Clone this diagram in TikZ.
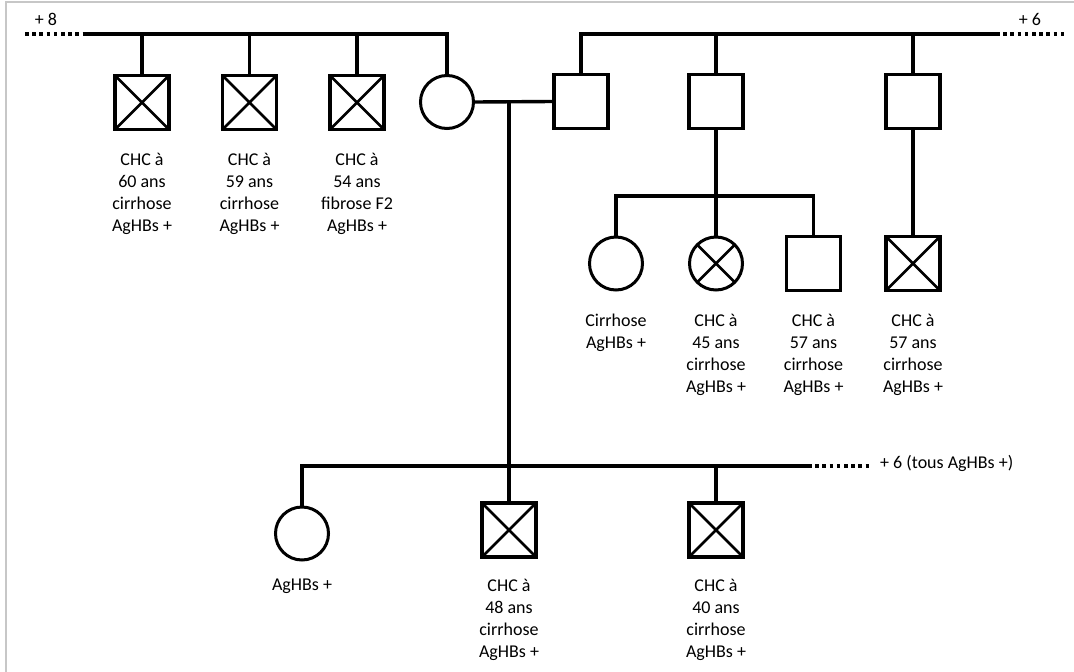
\documentclass[tikz,border=0pt]{standalone}
\usepackage{fontspec}
\setmainfont{Carlito}
\begin{document}
\begin{tikzpicture}[x=1pt,y=-1pt,
  lw/.style={line width=3.4pt},
  dotline/.style={line width=3.6pt, dash pattern=on 3.6pt off 3.6pt},
  sq/.style={draw, rectangle, line width=3.4pt, minimum size=54pt, inner sep=0pt},
  ci/.style={draw, circle, line width=3pt, minimum size=53pt, inner sep=0pt},
  xsq/.style={sq, path picture={\draw[line width=2.6pt]
     (path picture bounding box.north west) -- (path picture bounding box.south east)
     (path picture bounding box.north east) -- (path picture bounding box.south west);}},
  xci/.style={ci, path picture={\draw[line width=2.6pt]
     (path picture bounding box.north west) -- (path picture bounding box.south east)
     (path picture bounding box.north east) -- (path picture bounding box.south west);}},
  lab/.style={anchor=north, align=center, inner sep=0pt, font=\fontsize{18}{22}\selectfont},
  txt/.style={inner sep=0pt, font=\fontsize{18}{22}\selectfont}
]
\useasboundingbox (0,0) rectangle (1074,672);
\fill[white] (0,0) rectangle (1074,672);
\draw[black!22, line width=1.5pt] (6,672) -- (6,2) -- (1074,2);

% generation 1 - left sibship
\node[xsq] (a1) at (142,102.5) {};
\node[xsq] (a2) at (249.5,102.5) {};
\node[xsq] (a3) at (357,102.5) {};
\node[ci]  (w)  at (447,102) {};
% generation 1 - right sibship
\node[sq] (h) at (581,101.5) {};
\node[sq] (b) at (716,101.5) {};
\node[sq] (c) at (913,101.5) {};

\coordinate (tl0) at (25,34);
\coordinate (tl1) at (84,34);
\coordinate (tr1) at (996,34);
\coordinate (tr2) at (1064,34);

\draw[dotline] (tl0) -- (tl1);
\draw[lw] (tl1) -| (w.north);
\foreach \n in {a1,a2,a3} \draw[lw] (\n.north) -- (\n.north |- tl1);
\draw[lw] (h.north) |- (tr1);
\foreach \n in {b,c} \draw[lw] (\n.north) -- (\n.north |- tr1);
\draw[dotline] (tr1) -- (tr2);

\node[txt] (p8) at (46,19) {+ 8};
\node[txt] (p6) at (1030,19) {+ 6};

\node[lab] (la1) at (142,153) {CHC à\\60 ans\\cirrhose\\AgHBs +};
\node[lab] (la2) at (249.5,153) {CHC à\\59 ans\\cirrhose\\AgHBs +};
\node[lab] (la3) at (357,153) {CHC à\\54 ans\\fibrose F2\\AgHBs +};

% marriage
\draw[lw] (w.east) -- (h.west);
\coordinate (mid) at (509,102);

% generation 2
\node[ci]  (r2a) at (616,263.5) {};
\node[xci] (r2b) at (716,263.5) {};
\node[sq]  (r2c) at (813.5,263.5) {};
\node[xsq] (r2d) at (913,263.5) {};
\coordinate (s2) at (716,196);
\draw[lw] (r2a.north) |- (s2) -| (r2c.north);
\draw[lw] (b.south) -- (r2b.north);
\draw[lw] (c.south) -- (r2d.north);

\node[lab] (lr2a) at (616,314) {Cirrhose\\AgHBs +};
\node[lab] (lr2b) at (716,314) {CHC à\\45 ans\\cirrhose\\AgHBs +};
\node[lab] (lr2c) at (813.5,314) {CHC à\\57 ans\\cirrhose\\AgHBs +};
\node[lab] (lr2d) at (913,314) {CHC à\\57 ans\\cirrhose\\AgHBs +};

% generation 3
\node[ci]  (c1) at (302,533.5) {};
\node[xsq] (c2) at (509,530) {};
\node[xsq] (c3) at (716,530) {};
\coordinate (bl1) at (808,466);
\coordinate (bl2) at (869,466);
\draw[lw] (mid) -- (c2.north);
\draw[lw] (c1.north) |- (bl1);
\draw[lw] (c3.north) -- (c3.north |- bl1);
\draw[dotline] (bl1) -- (bl2);
\node[txt, anchor=west] (p6b) at (880,463) {+ 6 (tous AgHBs +)};

\node[lab] (lc1) at (302,578.5) {AgHBs +};
\node[lab] (lc2) at (509,578.5) {CHC à\\48 ans\\cirrhose\\AgHBs +};
\node[lab] (lc3) at (716,578.5) {CHC à\\40 ans\\cirrhose\\AgHBs +};
\end{tikzpicture}
\end{document}
